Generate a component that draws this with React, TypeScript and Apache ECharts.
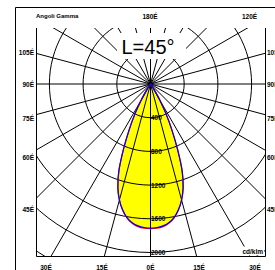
import React, { useEffect, useRef } from "react";
import * as echarts from "echarts";

// ---- data ----
const gammaAngles = [0, 2.5, 5, 7.5, 10, 12.5, 15, 17.5, 20, 22.5, 25, 27.5, 30, 32.5, 35, 40, 45, 50, 60, 70, 80, 90];
const intensityC90 = [1710, 1705, 1690, 1660, 1610, 1530, 1427, 1290, 1100, 840, 600, 400, 220, 100, 40, 10, 5, 3, 2, 1, 0, 0];
const intensityC0 = [1718, 1714, 1700, 1668, 1614, 1532, 1424, 1286, 1095, 836, 598, 398, 218, 100, 40, 10, 5, 3, 2, 1, 0, 0];
const radiusTicks = [400, 800, 1200, 1600, 2000];
const gridCircles = [400, 800, 1200, 1600, 2000, 2400, 2800, 3200];
const radialAngles = [0, 15, 30, 45, 60, 75, 90, 105, 120, 135, 150, 165, 180, 195, 210, 225, 240, 255, 270, 285, 300, 315, 330, 345];
const topLabels = ["Angoli Gamma", "180É", "120É"];
const sideLabels = ["105É", "90É", "75É", "60É", "45É"];
const bottomLabels = ["30É", "15É", "0É", "15É", "30É"];
const unitLabel = "cd/klm";
const titleText = "L=45°";

// ---- layout ----
const GL = 36, GT = 28, GW = 229, GH = 228;
const CX = 150.5, CY = 84;
const K = 168.5 / 2000; // px per cd/klm
const X_MIN = -(CX - GL) / K;
const X_MAX = (GL + GW - CX) / K;
const Y_MAX = (CY - GT) / K;
const Y_MIN = -(GT + GH - CY) / K;

const FONT = 'bold 6.5px "Liberation Sans", Arial, sans-serif';

function beamPoints(api: any, vals: number[]) {
  const pts: number[][] = [];
  for (let i = gammaAngles.length - 1; i >= 0; i--) {
    const t = (gammaAngles[i] * Math.PI) / 180;
    pts.push(api.coord([vals[i] * Math.sin(t), -vals[i] * Math.cos(t)]));
  }
  for (let i = 1; i < gammaAngles.length; i++) {
    const t = (gammaAngles[i] * Math.PI) / 180;
    pts.push(api.coord([-vals[i] * Math.sin(t), -vals[i] * Math.cos(t)]));
  }
  return pts;
}

function txt(text: string, x: number, y: number, align: string, font = FONT, extra: any = {}) {
  return {
    type: "text",
    z: 100,
    x,
    y,
    style: {
      text,
      font,
      fill: "#000",
      align,
      verticalAlign: "middle",
      textAlign: align,
      textVerticalAlign: "middle",
      ...extra,
    },
  };
}

export default function App() {
  const ref = useRef<HTMLDivElement>(null);
  useEffect(() => {
    const chart = echarts.init(ref.current!, null, { renderer: "svg" });
    const sideYs = [52, 84, 118, 157, 209];
    const bottomXs = [46, 102, 150.5, 199, 255];
    const graphics: any[] = [
      { type: "rect", z: 100, shape: { x: 15.5, y: 7.5, width: 300, height: 300 }, style: { fill: "none", stroke: "#000", lineWidth: 1 } },
      { type: "polyline", z: 100, shape: { points: [[36.5, 28], [36.5, 256.5], [265.5, 256.5], [265.5, 28]] }, style: { fill: "none", stroke: "#000", lineWidth: 1 } },
      { type: "rect", z: 99, shape: { x: 117, y: 33, width: 69, height: 26 }, style: { fill: "#fff" } },
      txt(titleText, 148, 47, "center", '20px "Liberation Sans", Arial, sans-serif'),
      txt(topLabels[0], 36, 16, "left", 'bold 6px "Liberation Sans", Arial, sans-serif'),
      txt(topLabels[1], 150, 16, "center"),
      txt(topLabels[2], 249.5, 16, "center"),
      txt(unitLabel, 264, 251, "right", FONT, { backgroundColor: "#fff", padding: [1, 1, 1, 1] }),
    ];
    sideLabels.forEach((s, i) => {
      graphics.push(txt(s, 34, sideYs[i], "right"));
      graphics.push(txt(s, 267, sideYs[i], "left"));
    });
    bottomLabels.forEach((s, i) => graphics.push(txt(s, bottomXs[i], 267, "center")));

    const option: any = {
      animation: false,
      grid: { left: GL, top: GT, width: GW, height: GH },
      xAxis: { type: "value", min: X_MIN, max: X_MAX, show: false },
      yAxis: { type: "value", min: Y_MIN, max: Y_MAX, show: false },
      series: [
        {
          type: "custom",
          clip: true,
          data: [[0, 0]],
          renderItem: (_p: any, api: any) => ({
            type: "polygon",
            shape: { points: beamPoints(api, intensityC90), smooth: 0.3 },
            style: { fill: "#ffff00", stroke: "none" },
          }),
        },
        {
          type: "custom",
          clip: true,
          data: gridCircles.map((r) => [r, 0]),
          renderItem: (_p: any, api: any) => {
            const c = api.coord([0, 0]);
            const r = api.size([api.value(0), 0])[0];
            return { type: "circle", shape: { cx: c[0], cy: c[1], r }, style: { fill: "none", stroke: "#000", lineWidth: 1 } };
          },
        },
        {
          type: "custom",
          clip: true,
          data: radialAngles.map((a) => [a, 0]),
          renderItem: (_p: any, api: any) => {
            const t = (api.value(0) * Math.PI) / 180;
            const c = api.coord([0, 0]);
            const e = api.coord([4000 * Math.sin(t), -4000 * Math.cos(t)]);
            return { type: "line", shape: { x1: c[0], y1: c[1], x2: e[0], y2: e[1] }, style: { stroke: "#000", lineWidth: 1 } };
          },
        },
        {
          type: "custom",
          clip: true,
          data: [[0, 0]],
          renderItem: (_p: any, api: any) => ({
            type: "polygon",
            shape: { points: beamPoints(api, intensityC0), smooth: 0.3 },
            style: { fill: "none", stroke: "#ff0000", lineWidth: 1.2 },
          }),
        },
        {
          type: "custom",
          clip: true,
          data: [[0, 0]],
          renderItem: (_p: any, api: any) => ({
            type: "polygon",
            shape: { points: beamPoints(api, intensityC90), smooth: 0.3 },
            style: { fill: "none", stroke: "#0000ff", lineWidth: 1.2 },
          }),
        },
        {
          type: "custom",
          data: radiusTicks.map((v) => [v, 0]),
          renderItem: (_p: any, api: any) => {
            const v = api.value(0);
            const p = api.coord([0, -v]);
            return {
              type: "text",
              x: p[0] + 0.5,
              y: p[1],
              style: { text: String(v), font: FONT, fill: "#000", align: "left", verticalAlign: "middle" },
            };
          },
        },
      ],
      graphic: graphics,
    };
    chart.setOption(option);
    return () => chart.dispose();
  }, []);
  return <div ref={ref} style={{ position: "fixed", left: 0, top: 0, width: 275, height: 270, background: "#fff" }} />;
}
